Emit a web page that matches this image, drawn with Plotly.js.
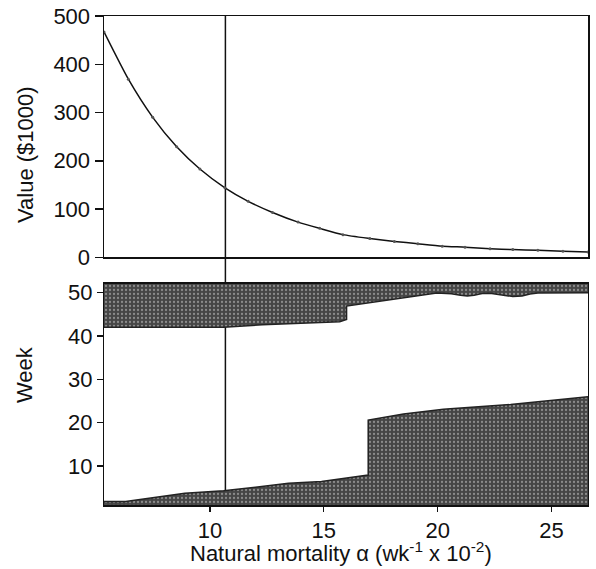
<!DOCTYPE html>
<html>
<head>
<meta charset="utf-8">
<script src="https://cdn.plot.ly/plotly-3.0.1.min.js"></script>
<style>html,body{margin:0;padding:0;background:#fff;}#chart{width:596px;height:569px;}</style>
</head>
<body>
<div id="chart"></div>
<script>
// Top panel: value curve
const valueX = [5.35, 6.42, 7.49, 8.54, 9.56, 10.66, 11.68, 12.75, 13.87, 14.82, 15.84, 17.02, 18.1, 19.13, 20.2, 21.2, 22.3, 23.3, 24.4, 25.5, 26.6];
const valueY = [467, 369, 290, 229, 183, 144, 116, 93, 73, 60, 47, 39, 33, 28, 23, 21, 18, 16, 14.5, 12.5, 11];

// Bottom panel: upper dark band lower boundary (band reaches the top week)
const upperX = [5.35, 10.6, 12.3, 15.7, 16.0, 16.0, 19.96, 20.6, 21.0, 21.3, 21.6, 21.95, 22.3, 22.7, 23.0, 23.3, 23.7, 24.05, 24.4, 26.6];
const upperY = [42.0, 42.0, 42.6, 43.3, 43.8, 46.9, 49.9, 49.75, 49.4, 49.25, 49.4, 49.8, 49.85, 49.6, 49.25, 49.1, 49.25, 49.7, 49.9, 50.0];
const bandTop = 52;

// Bottom panel: lower dark band upper boundary
const lowerX = [5.35, 6.3, 8.9, 10.6, 12.0, 13.45, 14.9, 16.95, 16.95, 18.5, 20.25, 23.2, 26.6];
const lowerY = [1.8, 1.8, 3.7, 4.3, 5.1, 6.0, 6.4, 7.9, 20.6, 22.0, 23.1, 24.2, 26.0];

const markerX = 10.68;
const xTicks = [10, 15, 20, 25];
const valueTicks = [0, 100, 200, 300, 400, 500];
const weekTicks = [10, 20, 30, 40, 50];

const bandColor = '#4a4a4a';
const bandPattern = {shape: '.', bgcolor: '#454545', fgcolor: '#8c8c8c', size: 4, solidity: 0.25, fillmode: 'replace'};
const font = {family: 'Liberation Sans, Arial, sans-serif', size: 22, color: '#111'};

const traces = [
  {x: valueX, y: valueY, xaxis: 'x', yaxis: 'y', mode: 'lines+markers',
   line: {color: '#111', width: 1.5, shape: 'spline', smoothing: 0.6},
   marker: {size: 3, color: '#555'}, hoverinfo: 'skip'},
  {x: upperX, y: upperX.map(() => bandTop), xaxis: 'x2', yaxis: 'y2', mode: 'lines',
   line: {color: '#111', width: 0}, hoverinfo: 'skip'},
  {x: upperX, y: upperY, xaxis: 'x2', yaxis: 'y2', mode: 'lines', fill: 'tonexty',
   fillcolor: bandColor, fillpattern: bandPattern, line: {color: '#222', width: 1.5}, hoverinfo: 'skip'},
  {x: lowerX, y: lowerY, xaxis: 'x2', yaxis: 'y2', mode: 'lines', fill: 'tozeroy',
   fillcolor: bandColor, fillpattern: bandPattern, line: {color: '#222', width: 1.5}, hoverinfo: 'skip'}
];

const axisCommon = {showgrid: false, zeroline: false, showline: true, linecolor: '#111', linewidth: 1.5,
  tickcolor: '#111', tickfont: font};

const layout = {
  width: 596, height: 569,
  margin: {l: 104, r: 8, t: 16, b: 64},
  paper_bgcolor: '#fff', plot_bgcolor: 'rgba(0,0,0,0)',
  showlegend: false, font: font,
  xaxis: Object.assign({}, axisCommon, {domain: [0, 1], range: [5.35, 26.6], anchor: 'y',
    showticklabels: false, ticks: '', mirror: true}),
  yaxis: Object.assign({}, axisCommon, {domain: [0.5065, 1], range: [0, 500], anchor: 'x',
    tickvals: valueTicks, ticks: 'outside', ticklen: 8, tickwidth: 1.5, mirror: true}),
  xaxis2: Object.assign({}, axisCommon, {domain: [0, 1], range: [5.35, 26.6], anchor: 'y2',
    tickvals: xTicks, ticks: 'outside', ticklen: 5, tickwidth: 1.2, mirror: true}),
  yaxis2: Object.assign({}, axisCommon, {domain: [0, 0.452], range: [1, 52], anchor: 'x2',
    tickvals: weekTicks, ticks: 'outside', ticklen: 6, tickwidth: 1.2, mirror: true, linewidth: 1}),
  shapes: [
    {type: 'line', xref: 'x', yref: 'paper', x0: markerX, x1: markerX, y0: 0, y1: 1,
     layer: 'below', line: {color: '#111', width: 1.5}}
  ],
  annotations: [
    {text: 'Value ($1000)', xref: 'paper', yref: 'paper', x: -0.161, y: 0.716, textangle: -90,
     showarrow: false, xanchor: 'center', yanchor: 'middle', font: font},
    {text: 'Week', xref: 'paper', yref: 'paper', x: -0.163, y: 0.266, textangle: -90,
     showarrow: false, xanchor: 'center', yanchor: 'middle', font: font},
    {text: 'Natural mortality \u03b1 (wk<sup>-1</sup> x 10<sup>-2</sup>)', xref: 'paper', yref: 'paper',
     x: 0.49, y: -0.096, showarrow: false, xanchor: 'center', yanchor: 'middle', font: font}
  ]
};

Plotly.newPlot('chart', traces, layout, {displayModeBar: false, staticPlot: true});
</script>
</body>
</html>
